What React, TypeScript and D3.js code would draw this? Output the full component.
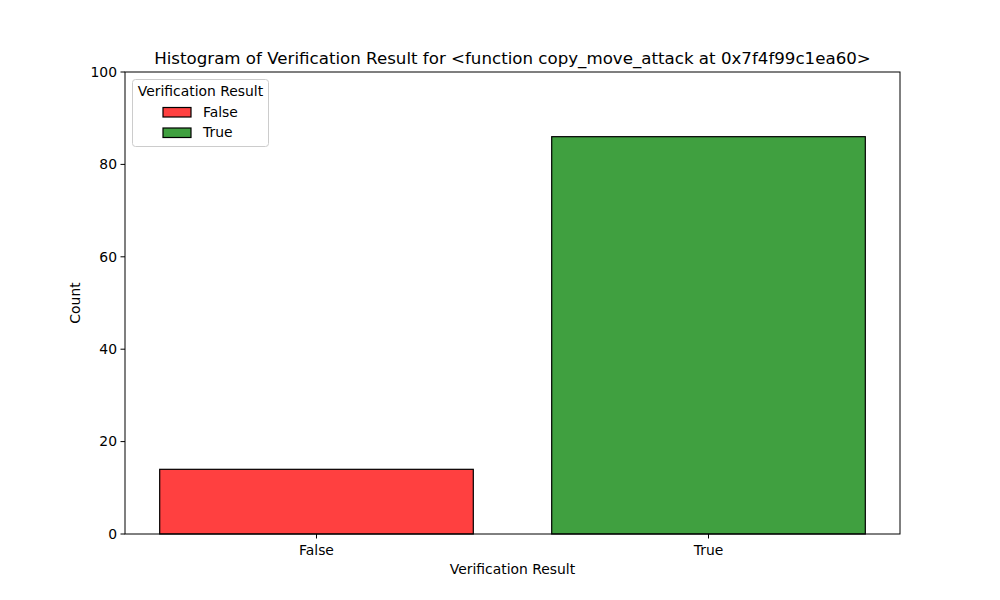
import React from "react";
import * as d3 from "d3";

const categories = ["False", "True"];
const counts = [14, 86];
const colors = ["#ff4040", "#40a040"];
const yTicks = [0, 20, 40, 60, 80, 100];
const title = "Histogram of Verification Result for <function copy_move_attack at 0x7f4f99c1ea60>";
const xLabel = "Verification Result";
const yLabel = "Count";
const legendTitle = "Verification Result";

export default function App() {
  const W = 1000, H = 600;
  const L = 125, R = 900, T = 72, B = 534;
  const x = d3.scaleLinear().domain([-0.4885, 1.4885]).range([L, R]);
  const y = d3.scaleLinear().domain([0, 100]).range([B, T]);
  const bw = 0.8;
  const font = "DejaVu Sans, sans-serif";
  return (
    <svg width={W} height={H} style={{ position: "absolute", left: 0, top: 0, background: "#fff" }} fontFamily={font}>
      <rect x={0} y={0} width={W} height={H} fill="#fff" />
      {categories.map((c, i) => (
        <rect key={c} x={x(i - bw / 2)} y={y(counts[i])} width={x(i + bw / 2) - x(i - bw / 2)} height={y(0) - y(counts[i])}
          fill={colors[i]} stroke="#000" strokeWidth={1.2} />
      ))}
      <rect x={L} y={T} width={R - L} height={B - T} fill="none" stroke="#000" strokeWidth={1} />
      {yTicks.map(t => (
        <g key={t}>
          <line x1={L - 4.5} x2={L} y1={y(t)} y2={y(t)} stroke="#000" strokeWidth={1} />
          <text x={L - 8} y={y(t)} dy="0.35em" textAnchor="end" fontSize={13.9} fill="#000">{t}</text>
        </g>
      ))}
      {categories.map((c, i) => (
        <g key={c}>
          <line x1={x(i)} x2={x(i)} y1={B} y2={B + 4.5} stroke="#000" strokeWidth={1} />
          <text x={x(i)} y={B + 21} textAnchor="middle" fontSize={13.9} fill="#000">{c}</text>
        </g>
      ))}
      <text x={(L + R) / 2} y={B + 40} textAnchor="middle" fontSize={13.9} fill="#000">{xLabel}</text>
      <text transform={`translate(${L - 45},${(T + B) / 2}) rotate(-90)`} textAnchor="middle" fontSize={13.9} fill="#000">{yLabel}</text>
      <text x={(L + R) / 2} y={T - 8} textAnchor="middle" fontSize={16.67} fill="#000">{title}</text>
      <g>
        <rect x={132.5} y={79.5} width={136} height={67} rx={3} fill="#fff" fillOpacity={0.8} stroke="#ccc" strokeWidth={1} />
        <text x={200.5} y={96} textAnchor="middle" fontSize={13.9} fill="#000">{legendTitle}</text>
        {categories.map((c, i) => (
          <g key={c}>
            <rect x={163} y={107.5 + i * 20.5} width={28} height={9.5} fill={colors[i]} stroke="#000" strokeWidth={1.2} />
            <text x={203} y={116.5 + i * 20.5} fontSize={13.9} fill="#000">{c}</text>
          </g>
        ))}
      </g>
    </svg>
  );
}
